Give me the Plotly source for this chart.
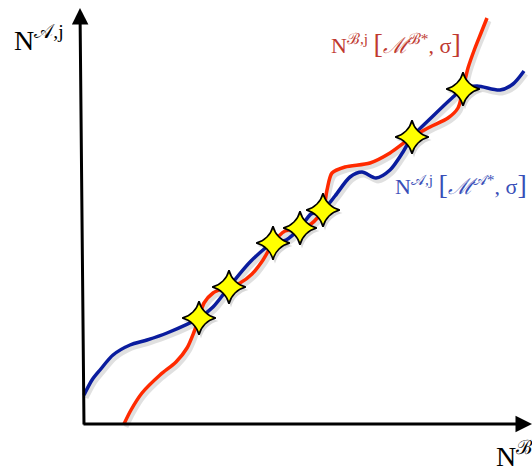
import plotly.graph_objects as go

# Curve A (blue) and curve B (red), origin at the axis corner, y upward
blue_x = [0, 8, 16, 29, 46, 63, 83, 115, 129, 145, 167, 189, 202, 216, 227, 239, 251, 266, 278, 292, 306, 319, 328, 348, 368, 379, 393, 416, 429, 440]
blue_y = [29, 44, 54, 69, 79, 84, 91, 106, 117, 137, 163, 181, 184, 196, 210, 214, 228, 247, 252, 246, 254, 272, 287, 307, 326, 335, 338, 334, 340, 353]

red_x = [40, 47, 58, 76, 92, 103, 110, 115, 120, 129, 138, 145, 156, 168, 179, 189, 201, 216, 227, 239, 243, 248, 261, 286, 306, 328, 346, 364, 374, 379, 384, 391, 397, 403]
red_y = [0, 14, 31, 49, 62, 76, 92, 106, 121, 131, 135, 137, 141, 150, 164, 181, 193, 196, 200, 214, 234, 251, 257, 261, 271, 287, 297, 306, 316, 335, 356, 376, 391, 406]

# Intersection points (stars)
star_x = [115, 145, 189, 216, 239, 328, 379]
star_y = [106, 137, 181, 196, 214, 287, 335]

RED = "#ff2a00"
BLUE = "#0a1c9e"
SERIF = "Liberation Serif"

fig = go.Figure()

# soft shadows
for xs, ys in [(blue_x, blue_y), (red_x, red_y)]:
    fig.add_trace(go.Scatter(x=[v + 2 for v in xs], y=[v - 3 for v in ys], mode="lines",
                             line=dict(color="rgba(0,0,0,0.12)", width=5, shape="spline", smoothing=0.8),
                             hoverinfo="skip", showlegend=False))

fig.add_trace(go.Scatter(x=blue_x, y=blue_y, mode="lines",
                         line=dict(color=BLUE, width=3.5, shape="spline", smoothing=0.8),
                         showlegend=False))
fig.add_trace(go.Scatter(x=red_x, y=red_y, mode="lines",
                         line=dict(color=RED, width=3.5, shape="spline", smoothing=0.8),
                         showlegend=False))
fig.add_trace(go.Scatter(x=[v + 2 for v in star_x], y=[v - 3 for v in star_y], mode="markers",
                         marker=dict(symbol="star-diamond", size=25, color="rgba(0,0,0,0.15)",
                                     line=dict(width=0)),
                         hoverinfo="skip", showlegend=False))
fig.add_trace(go.Scatter(x=star_x, y=star_y, mode="markers",
                         marker=dict(symbol="star-diamond", size=24, color="#ffff00",
                                     line=dict(color="black", width=1.6)),
                         showlegend=False))

# axes with arrows
fig.add_annotation(x=-4, y=416, ax=0, ay=-2, xref="x", yref="y", axref="x", ayref="y",
                   showarrow=True, arrowhead=2, arrowsize=1.1, arrowwidth=3, arrowcolor="black", text="")
fig.add_annotation(x=448, y=0, ax=-2, ay=0, xref="x", yref="y", axref="x", ayref="y",
                   showarrow=True, arrowhead=2, arrowsize=1.1, arrowwidth=3, arrowcolor="black", text="")

fig.add_annotation(x=-72, y=386, xref="x", yref="y", xanchor="left", yanchor="middle", showarrow=False,
                   text="N<sup>𝒜,j</sup>", font=dict(family=SERIF, size=28, color="black"))
fig.add_annotation(x=245, y=381, xref="x", yref="y", xanchor="left", yanchor="middle", showarrow=False,
                   text="N<sup>ℬ,j</sup> <span style='font-size:28px'>[</span><i>ℳ</i><sup>ℬ*</sup>, σ<span style='font-size:28px'>]</span>",
                   font=dict(family=SERIF, size=22, color="#c0392f"))
fig.add_annotation(x=309, y=240, xref="x", yref="y", xanchor="left", yanchor="middle", showarrow=False,
                   text="N<sup>𝒜,j</sup> <span style='font-size:28px'>[</span><i>ℳ</i><sup>𝒜*</sup>, σ<span style='font-size:28px'>]</span>",
                   font=dict(family=SERIF, size=22, color="#3a4fb8"))
fig.add_annotation(x=410, y=-30, xref="x", yref="y", xanchor="left", yanchor="middle", showarrow=False,
                   text="N<sup>ℬ,j</sup>", font=dict(family=SERIF, size=28, color="black"))

fig.update_layout(width=532, height=466, margin=dict(l=0, r=0, t=0, b=0),
                  paper_bgcolor="white", plot_bgcolor="white",
                  xaxis=dict(range=[-84, 448], visible=False, fixedrange=True),
                  yaxis=dict(range=[-42, 424], visible=False, fixedrange=True))
fig.write_html("out.html", config={"displayModeBar": False},
               post_script="document.body.style.margin='0';document.body.style.overflow='hidden';")
